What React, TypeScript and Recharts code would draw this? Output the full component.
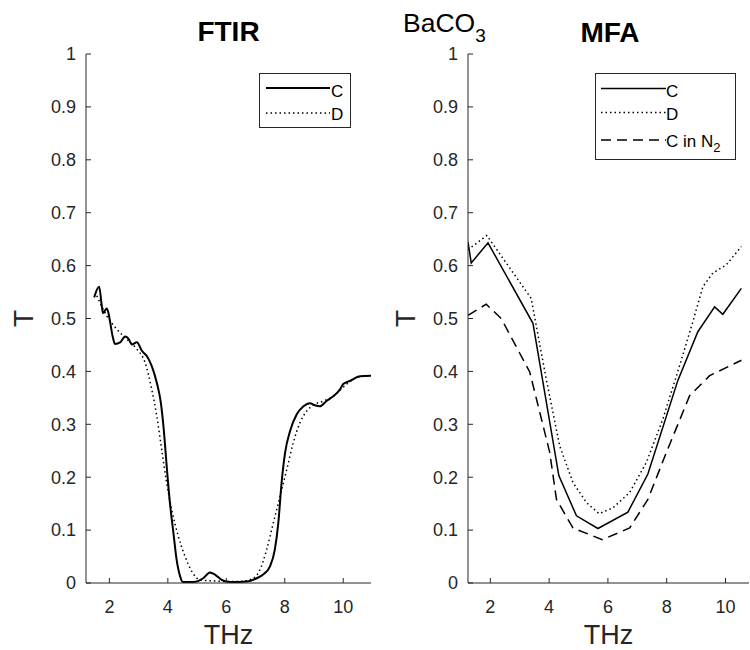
import React from 'react';
import { LineChart, Line, XAxis, YAxis } from 'recharts';

const FONT = '"Liberation Sans", Arial, Helvetica, sans-serif';
const AXIS = '#262626';

const xTicks = [2, 4, 6, 8, 10];
const yTicks = [0, 0.1, 0.2, 0.3, 0.4, 0.5, 0.6, 0.7, 0.8, 0.9, 1];

// FTIR panel, sample C (solid)
const ftirCx = [1.48, 1.65, 1.74, 1.78, 1.91, 1.97, 2.02, 2.12, 2.19, 2.37, 2.54, 2.65, 2.77, 2.94, 3.11, 3.28, 3.45, 3.62, 3.76, 3.87, 3.96, 4.07, 4.19, 4.3, 4.42, 4.51, 4.87, 5.21, 5.44, 5.61, 5.84, 6.13, 6.7, 7.04, 7.26, 7.49, 7.66, 7.78, 7.89, 8.01, 8.18, 8.41, 8.64, 8.86, 9.03, 9.2, 9.43, 9.66, 9.89, 10.0, 10.23, 10.57, 10.95];
const ftirCy = [0.54, 0.56, 0.524, 0.51, 0.519, 0.51, 0.495, 0.464, 0.452, 0.455, 0.466, 0.462, 0.451, 0.455, 0.439, 0.429, 0.41, 0.379, 0.341, 0.284, 0.221, 0.152, 0.095, 0.044, 0.0125, 0.002, 0.002, 0.009, 0.02, 0.016, 0.006, 0.002, 0.003, 0.009, 0.016, 0.031, 0.063, 0.114, 0.189, 0.246, 0.287, 0.319, 0.334, 0.34, 0.336, 0.334, 0.344, 0.353, 0.366, 0.376, 0.382, 0.391, 0.392];

// FTIR panel, sample D (dotted)
const ftirDx = [1.57, 1.91, 2.25, 2.59, 2.94, 3.22, 3.45, 3.62, 3.79, 3.96, 4.13, 4.36, 4.59, 4.82, 5.1, 5.55, 6.0, 6.47, 6.92, 7.15, 7.38, 7.61, 7.84, 8.07, 8.29, 8.52, 8.75, 8.97, 9.32, 9.66, 10.0, 10.34, 10.57, 10.95];
const ftirDy = [0.543, 0.505, 0.48, 0.461, 0.442, 0.417, 0.366, 0.316, 0.252, 0.189, 0.139, 0.088, 0.05, 0.022, 0.006, 0.004, 0.003, 0.003, 0.009, 0.025, 0.063, 0.114, 0.164, 0.215, 0.265, 0.303, 0.325, 0.336, 0.344, 0.353, 0.37, 0.385, 0.39, 0.392];

// MFA panel, sample C (solid)
const mfaCx = [1.24, 1.35, 1.92, 3.45, 4.33, 4.93, 5.66, 6.68, 7.36, 8.38, 9.06, 9.63, 9.91, 10.54];
const mfaCy = [0.645, 0.605, 0.643, 0.491, 0.203, 0.127, 0.103, 0.134, 0.206, 0.383, 0.475, 0.522, 0.508, 0.557];

// MFA panel, sample D (dotted)
const mfaDx = [1.24, 1.88, 3.39, 3.56, 3.9, 4.36, 4.81, 5.27, 5.7, 6.17, 6.74, 7.31, 7.87, 8.44, 8.89, 9.23, 9.57, 10.02, 10.54];
const mfaDy = [0.63, 0.657, 0.538, 0.487, 0.386, 0.259, 0.19, 0.152, 0.131, 0.142, 0.171, 0.228, 0.31, 0.411, 0.494, 0.56, 0.586, 0.601, 0.636];

// MFA panel, sample C in N2 (dashed)
const mfaNx = [1.24, 1.86, 2.37, 3.34, 4.02, 4.25, 4.81, 5.81, 6.74, 7.36, 7.99, 8.78, 9.46, 10.54];
const mfaNy = [0.506, 0.527, 0.5, 0.399, 0.247, 0.158, 0.104, 0.082, 0.104, 0.158, 0.247, 0.354, 0.392, 0.421];

const zip = (xs: number[], ys: number[]) => xs.map((x, i) => ({ x, y: ys[i] }));

const ftirC = zip(ftirCx, ftirCy);
const ftirD = zip(ftirDx, ftirDy);
const mfaC = zip(mfaCx, mfaCy);
const mfaD = zip(mfaDx, mfaDy);
const mfaN = zip(mfaNx, mfaNy);

const DOT = '1.5 3';
const DASH = '10 6';

const tickStyle = { fill: AXIS, fontSize: 18, fontFamily: FONT };
const fmtY = (v: number) => String(+v.toFixed(1));
const blank = () => '';

function axes(xDomain: number[], yAxisWidth: number, yLabelX: number, xLabelX: number) {
  return [
    <XAxis
      key="xb"
      xAxisId="b"
      type="number"
      dataKey="x"
      domain={xDomain}
      ticks={xTicks}
      allowDataOverflow
      height={67}
      tickSize={-5}
      tickMargin={22}
      stroke={AXIS}
      tick={tickStyle}
      label={{
        content: () => (
          <text x={xLabelX} y={644} textAnchor="middle" fontSize={27} fontFamily={FONT} fill={AXIS}>
            THz
          </text>
        ),
      }}
    />,
    <XAxis
      key="xt"
      xAxisId="t"
      orientation="top"
      type="number"
      dataKey="x"
      domain={xDomain}
      ticks={xTicks}
      allowDataOverflow
      height={0}
      tickSize={-5}
      tickFormatter={blank}
      stroke={AXIS}
    />,
    <YAxis
      key="yl"
      yAxisId="l"
      type="number"
      domain={[0, 1]}
      ticks={yTicks}
      allowDataOverflow
      width={yAxisWidth}
      tickSize={-5}
      tickMargin={15}
      tickFormatter={fmtY}
      stroke={AXIS}
      tick={tickStyle}
      label={{
        content: () => (
          <text
            x={yLabelX}
            y={318.5}
            transform={`rotate(-90 ${yLabelX} 318.5)`}
            textAnchor="middle"
            fontSize={28}
            fontFamily={FONT}
            fill={AXIS}
          >
            T
          </text>
        ),
      }}
    />,
    <YAxis
      key="yr"
      yAxisId="r"
      orientation="right"
      type="number"
      domain={[0, 1]}
      ticks={yTicks}
      allowDataOverflow
      width={0}
      tickSize={-5}
      tickFormatter={blank}
      stroke={AXIS}
    />,
  ];
}

export default function App() {
  return (
    <div style={{ position: 'absolute', left: 0, top: 0, width: 750, height: 650, background: '#fff', fontFamily: FONT }}>
      <div style={{ position: 'absolute', left: 0, top: 0 }}>
        <LineChart width={375} height={650} margin={{ top: 54, right: 4, left: 0, bottom: 0 }}>
          {axes([1.2, 10.95], 86, 33, 228.5)}
          <Line data={ftirD} dataKey="y" xAxisId="b" yAxisId="l" type="monotone" stroke="#000" strokeWidth={1.5} strokeDasharray={DOT} dot={false} isAnimationActive={false} />
          <Line data={ftirC} dataKey="y" xAxisId="b" yAxisId="l" type="monotone" stroke="#000" strokeWidth={2} dot={false} isAnimationActive={false} />
        </LineChart>
      </div>
      <div style={{ position: 'absolute', left: 375, top: 0 }}>
        <LineChart width={375} height={650} margin={{ top: 54, right: 1, left: 0, bottom: 0 }}>
          {axes([1.24, 10.8], 93, 40, 233.5)}
          <Line data={mfaD} dataKey="y" xAxisId="b" yAxisId="l" type="linear" stroke="#000" strokeWidth={1.5} strokeDasharray={DOT} dot={false} isAnimationActive={false} />
          <Line data={mfaN} dataKey="y" xAxisId="b" yAxisId="l" type="linear" stroke="#000" strokeWidth={1.5} strokeDasharray={DASH} dot={false} isAnimationActive={false} />
          <Line data={mfaC} dataKey="y" xAxisId="b" yAxisId="l" type="linear" stroke="#000" strokeWidth={1.5} dot={false} isAnimationActive={false} />
        </LineChart>
      </div>
      <svg width={750} height={650} style={{ position: 'absolute', left: 0, top: 0, pointerEvents: 'none' }}>
        <text x={228.5} y={41} textAnchor="middle" fontSize={28} fontWeight="bold" fontFamily={FONT} fill="#000">FTIR</text>
        <text x={610} y={42} textAnchor="middle" fontSize={28} fontWeight="bold" fontFamily={FONT} fill="#000">MFA</text>
        <text x={403} y={32} fontSize={26.5} fontFamily={FONT} fill="#000">
          BaCO
          <tspan dy={10} fontSize={19}>3</tspan>
        </text>
        {/* FTIR legend */}
        <rect x={259.5} y={73.5} width={91} height={54} fill="#fff" stroke={AXIS} strokeWidth={1} />
        <line x1={266} x2={330} y1={88} y2={88} stroke="#000" strokeWidth={2} />
        <text x={331} y={97} fontSize={17} fontFamily={FONT} fill="#000">C</text>
        <line x1={266} x2={330} y1={113} y2={113} stroke="#000" strokeWidth={1.5} strokeDasharray={DOT} />
        <text x={331} y={120} fontSize={17} fontFamily={FONT} fill="#000">D</text>
        {/* MFA legend */}
        <rect x={595.5} y={73.5} width={140} height={86} fill="#fff" stroke={AXIS} strokeWidth={1} />
        <line x1={601} x2={666} y1={88.5} y2={88.5} stroke="#000" strokeWidth={1.5} />
        <text x={666} y={97} fontSize={17} fontFamily={FONT} fill="#000">C</text>
        <line x1={601} x2={666} y1={112.5} y2={112.5} stroke="#000" strokeWidth={1.5} strokeDasharray={DOT} />
        <text x={666} y={120} fontSize={17} fontFamily={FONT} fill="#000">D</text>
        <line x1={601} x2={666} y1={140} y2={140} stroke="#000" strokeWidth={1.5} strokeDasharray={DASH} />
        <text x={666} y={147} fontSize={17} fontFamily={FONT} fill="#000">
          C in N
          <tspan fontSize={13} dy={5}>2</tspan>
        </text>
      </svg>
    </div>
  );
}
